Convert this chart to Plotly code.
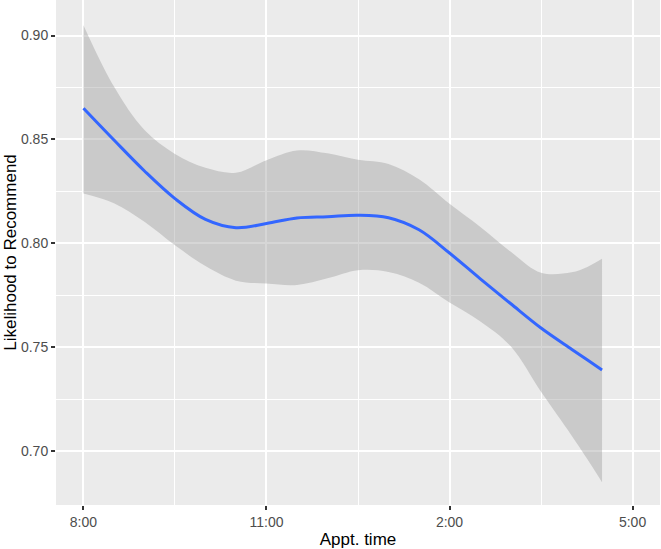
import plotly.graph_objects as go

# Appointment time in hours (8 = 8:00 AM, 16.5 = 4:30 PM)
appt_hours = [8.0, 8.5, 9.0, 9.5, 10.0, 10.5, 11.0, 11.5, 12.0, 12.5,
              13.0, 13.5, 14.0, 14.5, 15.0, 15.5, 16.0, 16.25, 16.5]
fit = [0.865, 0.8497, 0.8348, 0.8215, 0.8115, 0.8075, 0.8095, 0.8122, 0.8128, 0.8135,
       0.8123, 0.8065, 0.7953, 0.7830, 0.7710, 0.7592, 0.7490, 0.7440, 0.7390]
upper = [0.905, 0.8754, 0.8545, 0.8430, 0.8363, 0.8340, 0.8400, 0.8447, 0.8433, 0.8402,
         0.8382, 0.8308, 0.8190, 0.8080, 0.7960, 0.7858, 0.7860, 0.7885, 0.7925]
lower = [0.824, 0.8193, 0.8103, 0.7990, 0.7890, 0.7820, 0.7806, 0.7799, 0.7831, 0.7870,
         0.7862, 0.7810, 0.7715, 0.7625, 0.7505, 0.7285, 0.7075, 0.6965, 0.6850]

x_tickvals = [8, 11, 14, 17]
x_ticktext = ["8:00", "11:00", "2:00", "5:00"]
y_tickvals = [0.70, 0.75, 0.80, 0.85, 0.90]
y_ticktext = ["0.70", "0.75", "0.80", "0.85", "0.90"]

fig = go.Figure()
fig.add_trace(go.Scatter(x=appt_hours, y=lower, mode="lines", line=dict(width=0, shape="spline"),
                         hoverinfo="skip", showlegend=False))
fig.add_trace(go.Scatter(x=appt_hours, y=upper, mode="lines", line=dict(width=0, shape="spline"),
                         fill="tonexty", fillcolor="rgba(153,153,153,0.4)",
                         hoverinfo="skip", showlegend=False))
fig.add_trace(go.Scatter(x=appt_hours, y=fit, mode="lines",
                         line=dict(color="#3366FF", width=3, shape="spline"), showlegend=False))

fig.update_layout(
    width=661, height=549,
    margin=dict(l=56, r=1, t=0, b=44),
    paper_bgcolor="white",
    plot_bgcolor="#EBEBEB",
    font=dict(family="Liberation Sans, Arial, sans-serif", color="#4D4D4D", size=14),
)
fig.update_xaxes(
    range=[7.55, 17.45], tickvals=x_tickvals, ticktext=x_ticktext,
    showgrid=True, gridcolor="white", gridwidth=1.5, zeroline=False,
    ticks="outside", ticklen=4, tickwidth=1.5, tickcolor="#333333",
    minor=dict(tickvals=[9.5, 12.5, 15.5], showgrid=True, gridcolor="white", gridwidth=0.8, ticks=""),
    title=dict(text="Appt. time", font=dict(size=17, color="black"), standoff=6),
    automargin=False,
)
fig.update_yaxes(
    range=[0.674, 0.9171], tickvals=y_tickvals, ticktext=y_ticktext,
    showgrid=True, gridcolor="white", gridwidth=1.5, zeroline=False,
    ticks="outside", ticklen=4, tickwidth=1.5, tickcolor="#333333",
    minor=dict(tickvals=[0.725, 0.775, 0.825, 0.875], showgrid=True, gridcolor="white", gridwidth=0.8, ticks=""),
    title=dict(text="Likelihood to Recommend", font=dict(size=17, color="black"), standoff=0),
    automargin=False,
)

fig.write_html("out.html", config={"displayModeBar": False},
               post_script="document.body.style.margin='0';document.body.style.overflow='hidden';")
